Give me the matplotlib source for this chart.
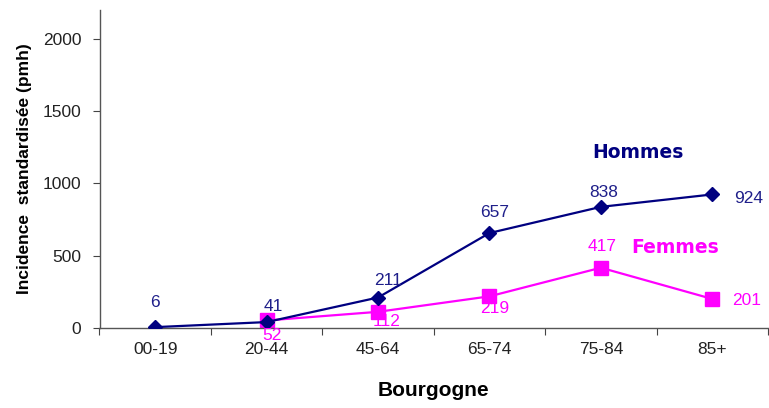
import numpy as np
import matplotlib
matplotlib.use("Agg")
import matplotlib.pyplot as plt

plt.rcParams['font.family'] = ['Liberation Sans', 'DejaVu Sans']

ages = ["00-19", "20-44", "45-64", "65-74", "75-84", "85+"]
hommes = [6, 41, 211, 657, 838, 924]
femmes = [None, 52, 112, 219, 417, 201]

navy = "#000080"
magenta = "#FF00FF"

fig = plt.figure(figsize=(7.69, 4.08), dpi=100)
ax = fig.add_axes([99.5 / 769, 80 / 408, 668.5 / 769, 318 / 408])

x = np.arange(len(ages))
xf = [i for i, v in enumerate(femmes) if v is not None]
yf = [v for v in femmes if v is not None]

ax.plot(x, hommes, color=navy, lw=1.6, marker="D", ms=7, zorder=3)
ax.plot(xf, yf, color=magenta, lw=1.6, marker="s", ms=10, zorder=2)

# value labels (offsets in points)
h_off = [(0, 18), (5, 11), (7, 12), (4, 15), (2, 10), (26, -3)]
for i, (v, o) in enumerate(zip(hommes, h_off)):
    ax.annotate(str(v), (i, v), xytext=o, textcoords="offset points",
                ha="center", va="center", color="#1f1f8a", fontsize=12.5)
f_off = [(4, -11), (6, -7), (4, -9), (1, 15), (25, -1)]
for i, v, o in zip(xf, yf, f_off):
    ax.annotate(str(v), (i, v), xytext=o, textcoords="offset points",
                ha="center", va="center", color=magenta, fontsize=12.5)

ax.text(4.33, 1214, "Hommes", color=navy, fontsize=13.5, fontweight="bold",
        family="DejaVu Sans", ha="center", va="center")
ax.text(4.67, 559, "Femmes", color=magenta, fontsize=13.5, fontweight="bold",
        family="DejaVu Sans", ha="center", va="center")

ax.set_xlim(-0.5, 5.5)
ax.set_ylim(0, 2200)
ax.set_yticks(np.arange(0, 2001, 500))
ax.set_xticks(np.arange(-0.5, 5.6, 1))
ax.set_xticklabels([])
ax.set_xticks(x, minor=True)
ax.set_xticklabels(ages, minor=True)
ax.tick_params(axis="x", which="minor", length=0, pad=10, labelsize=12.5, colors="#222222")
ax.tick_params(axis="x", which="major", length=5, color="#444444", direction="out")
ax.tick_params(axis="y", length=5, color="#444444", labelsize=12.5, labelcolor="#222222", pad=8)

for s in ["top", "right"]:
    ax.spines[s].set_visible(False)
for s in ["left", "bottom"]:
    ax.spines[s].set_color("#555555")
    ax.spines[s].set_linewidth(1.0)

ax.set_ylabel("Incidence  standardisée (pmh)", fontsize=12.5, fontweight="bold", labelpad=8)
ax.set_xlabel("Bourgogne", fontsize=15, fontweight="bold", labelpad=17)

fig.savefig("out.png", dpi=100)
plt.close(fig)
